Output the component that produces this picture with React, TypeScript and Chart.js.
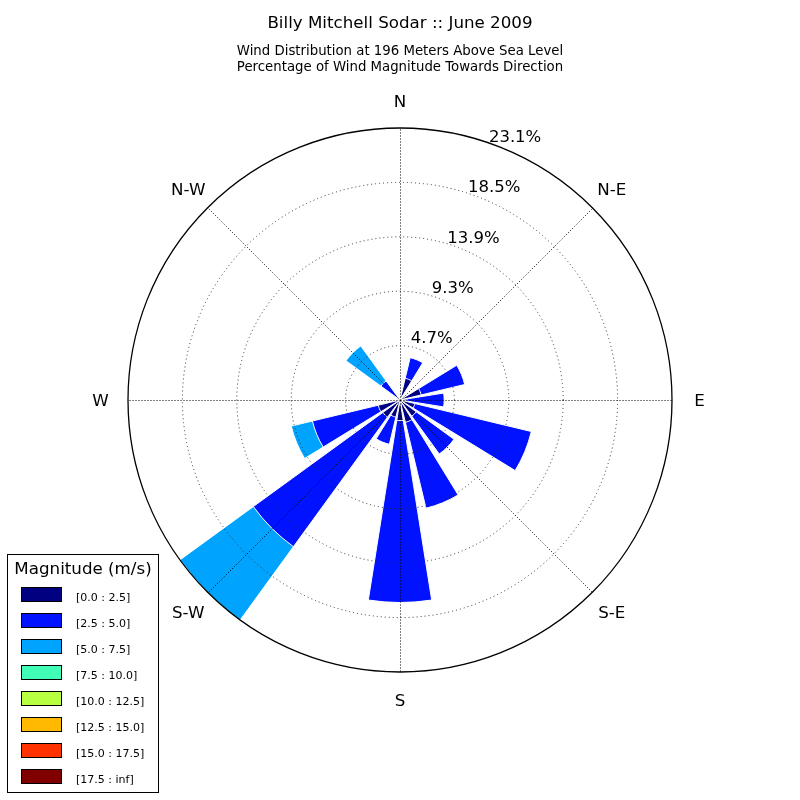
import React, { useEffect, useRef } from 'react';
import { Chart, registerables } from 'chart.js';

Chart.register(...registerables);

const directions = ['N', 'NNE', 'NE', 'ENE', 'E', 'ESE', 'SE', 'SSE', 'S', 'SSW', 'SW', 'WSW', 'W', 'WNW', 'NW', 'NNW'];
const compassLabels = ['N', 'N-E', 'E', 'S-E', 'S', 'S-W', 'W', 'N-W'];
const binLabels = ['[0.0 : 2.5]', '[2.5 : 5.0]', '[5.0 : 7.5]', '[7.5 : 10.0]', '[10.0 : 12.5]', '[12.5 : 15.0]', '[15.0 : 17.5]', '[17.5 : inf]'];
const binColors = ['#000080', '#0012ff', '#00a4ff', '#41ffb6', '#b6ff41', '#ffb900', '#ff3200', '#800000'];

// percentage per direction for each magnitude bin
const bin0to2_5 = [0, 1.9, 0, 1.85, 0.6, 1.3, 1.7, 1.95, 1.75, 1.5, 1.8, 1.9, 0, 0, 0.3, 0];
const bin2_5to5 = [0, 1.8, 0, 3.8, 3.15, 10.17, 3.97, 7.5, 15.45, 2.37, 13.6, 5.75, 0, 0, 1.7, 0];
const bin5to7_5 = [0, 0, 0, 0, 0, 0, 0, 0, 0, 0, 7.7, 1.85, 0, 0, 3.67, 0];
const bin7_5to10 = [0, 0, 0, 0, 0, 0, 0, 0, 0, 0, 0, 0, 0, 0, 0, 0];
const bin10to12_5 = [0, 0, 0, 0, 0, 0, 0, 0, 0, 0, 0, 0, 0, 0, 0, 0];
const bin12_5to15 = [0, 0, 0, 0, 0, 0, 0, 0, 0, 0, 0, 0, 0, 0, 0, 0];
const bin15to17_5 = [0, 0, 0, 0, 0, 0, 0, 0, 0, 0, 0, 0, 0, 0, 0, 0];
const bin17_5toInf = [0, 0, 0, 0, 0, 0, 0, 0, 0, 0, 0, 0, 0, 0, 0, 0];

const tickValues = [4.62, 9.24, 13.86, 18.48, 23.1];
const tickLabels = ['4.7%', '9.3%', '13.9%', '18.5%', '23.1%'];
const rMax = 23.1;

const titleText = 'Billy Mitchell Sodar :: June 2009';
const subtitleLines = ['Wind Distribution at 196 Meters Above Sea Level', 'Percentage of Wind Magnitude Towards Direction'];
const legendTitle = 'Magnitude (m/s)';

const FONT = '"DejaVu Sans", sans-serif';

export default function App() {
  const ref = useRef<HTMLCanvasElement | null>(null);

  useEffect(() => {
    if (!ref.current) return;
    const bins = [bin0to2_5, bin2_5to5, bin5to7_5, bin7_5to10, bin10to12_5, bin12_5to15, bin15to17_5, bin17_5toInf];
    const labels: string[] = [];
    directions.forEach((d) => { labels.push(d); labels.push(''); });

    const datasets = bins.map((_, k) => {
      const data: number[] = [];
      directions.forEach((_, i) => {
        let cum = 0;
        for (let j = 0; j <= k; j++) cum += bins[j][i];
        data.push(cum);
        data.push(0);
      });
      return {
        label: binLabels[k],
        data,
        backgroundColor: binColors[k],
        borderColor: '#ffffff',
        borderWidth: (c: any) => (c.dataIndex % 2 === 1 || !c.raw ? 0 : 1),
        angle: (c: any) => (c.dataIndex % 2 === 0 ? 18 : 4.5),
      };
    });

    const overlay = {
      id: 'overlay',
      afterDraw(chart: any) {
        const ctx = chart.ctx as CanvasRenderingContext2D;
        const s = chart.scales.r;
        const cx = s.xCenter;
        const cy = s.yCenter;
        const R = s.getDistanceFromCenterForValue(rMax);
        const pt = (a: number, r: number) => [cx + r * Math.sin((a * Math.PI) / 180), cy - r * Math.cos((a * Math.PI) / 180)];
        ctx.save();
        // angle lines
        ctx.strokeStyle = '#000';
        ctx.lineWidth = 1;
        ctx.setLineDash([1, 2]);
        compassLabels.forEach((_, i) => {
          const [x, y] = pt(i * 45, R);
          ctx.beginPath();
          ctx.moveTo(cx + 0.5, cy + 0.5);
          ctx.lineTo(x + 0.5, y + 0.5);
          ctx.stroke();
        });
        ctx.setLineDash([]);
        ctx.fillStyle = '#000';
        // compass labels
        ctx.font = `16.7px ${FONT}`;
        ctx.textAlign = 'center';
        ctx.textBaseline = 'middle';
        compassLabels.forEach((lab, i) => {
          const [x, y] = pt(i * 45, R + 27.5);
          ctx.fillText(lab, x, y + 2);
        });
        // radial tick labels
        ctx.font = `16.5px ${FONT}`;
        tickValues.forEach((v, i) => {
          const [x, y] = pt(22.5, s.getDistanceFromCenterForValue(v));
          ctx.fillText(tickLabels[i], x + 11, y - 11);
        });
        // titles
        ctx.textBaseline = 'alphabetic';
        ctx.font = `16.7px ${FONT}`;
        ctx.fillText(titleText, 400, 28);
        ctx.font = `13.3px ${FONT}`;
        ctx.fillText(subtitleLines[0], 400, 54.5);
        ctx.fillText(subtitleLines[1], 400, 70.5);
        // legend
        ctx.strokeStyle = '#000';
        ctx.lineWidth = 1;
        ctx.fillStyle = '#fff';
        ctx.fillRect(7.5, 554.5, 151, 238);
        ctx.strokeRect(7.5, 554.5, 151, 238);
        ctx.fillStyle = '#000';
        ctx.font = `16.7px ${FONT}`;
        ctx.textAlign = 'center';
        ctx.textBaseline = 'middle';
        ctx.fillText(legendTitle, 83, 569.5);
        ctx.textAlign = 'left';
        ctx.textBaseline = 'alphabetic';
        ctx.font = `11px ${FONT}`;
        binLabels.forEach((lab, i) => {
          const y = 587.5 + 26 * i;
          ctx.fillStyle = binColors[i];
          ctx.fillRect(21.5, y, 40, 14);
          ctx.strokeRect(21.5, y, 40, 14);
          ctx.fillStyle = '#000';
          ctx.fillText(lab, 76, 601 + 26 * i);
        });
        ctx.restore();
      },
    };

    const chart = new Chart(ref.current, {
      type: 'polarArea',
      data: { labels, datasets: datasets as any },
      options: {
        responsive: false,
        animation: false,
        layout: { padding: 128 },
        plugins: {
          legend: { display: false },
          tooltip: { enabled: false },
          title: { display: false },
        },
        scales: {
          r: {
            min: 0,
            max: rMax,
            startAngle: -9,
            afterBuildTicks: (scale: any) => {
              scale.ticks = [0, ...tickValues].map((v) => ({ value: v }));
            },
            ticks: { display: false },
            grid: {
              circular: true,
              z: 1,
              color: (c: any) => (c.index === tickValues.length ? '#000000' : '#333333'),
              lineWidth: (c: any) => (c.index === tickValues.length ? 1.3 : 1),
            },
            border: {
              dash: (c: any) => (c.index === tickValues.length ? [] : [1, 3]),
            },
            angleLines: { display: false },
            pointLabels: { display: false },
          } as any,
        },
      },
      plugins: [overlay],
    });
    return () => chart.destroy();
  }, []);

  return (
    <div style={{ position: 'absolute', left: 0, top: 0, width: 800, height: 800, background: '#fff' }}>
      <canvas ref={ref} width={800} height={800} style={{ display: 'block' }} />
    </div>
  );
}
